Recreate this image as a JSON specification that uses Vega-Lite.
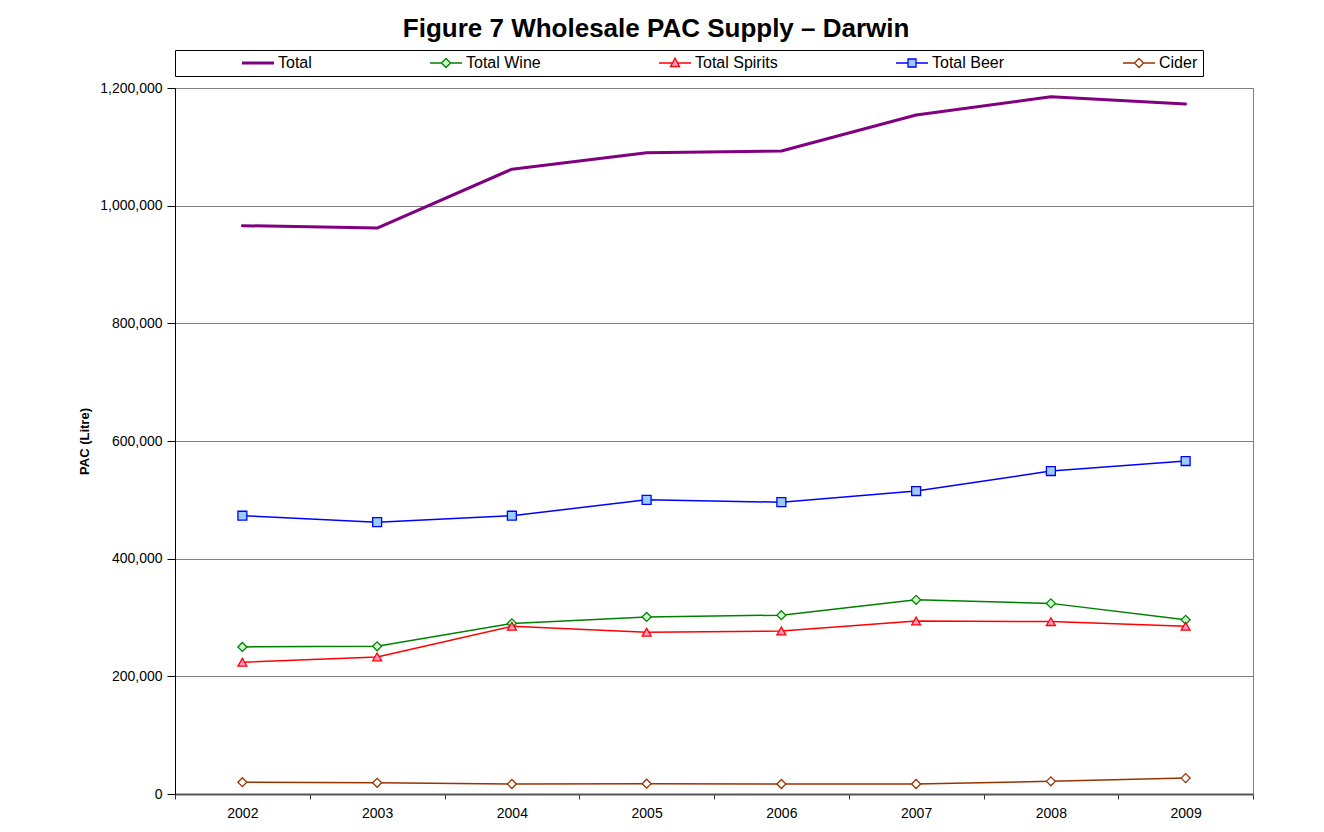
{
  "$schema": "https://vega.github.io/schema/vega-lite/v6.json",
  "width": 1078,
  "height": 706,
  "padding": {"left": 78, "top": 15, "right": 66, "bottom": 5},
  "background": "white",
  "title": {"text": "Figure 7 Wholesale PAC Supply – Darwin", "font": "Liberation Sans", "fontSize": 26, "fontWeight": "bold", "color": "#000000", "anchor": "middle", "frame": "bounds", "offset": 8, "dx": -10},
  "config": {
    "view": {"stroke": "#808080", "strokeWidth": 1},
    "font": "Liberation Sans"
  },
  "data": {"values": [
    {"year": "2002", "series": "Total", "value": 966000},
    {"year": "2003", "series": "Total", "value": 962000},
    {"year": "2004", "series": "Total", "value": 1062000},
    {"year": "2005", "series": "Total", "value": 1090000},
    {"year": "2006", "series": "Total", "value": 1093000},
    {"year": "2007", "series": "Total", "value": 1154000},
    {"year": "2008", "series": "Total", "value": 1185000},
    {"year": "2009", "series": "Total", "value": 1173000},
    {"year": "2002", "series": "Total Wine", "value": 250000},
    {"year": "2003", "series": "Total Wine", "value": 251000},
    {"year": "2004", "series": "Total Wine", "value": 290000},
    {"year": "2005", "series": "Total Wine", "value": 301000},
    {"year": "2006", "series": "Total Wine", "value": 304000},
    {"year": "2007", "series": "Total Wine", "value": 330000},
    {"year": "2008", "series": "Total Wine", "value": 324000},
    {"year": "2009", "series": "Total Wine", "value": 296000},
    {"year": "2002", "series": "Total Spirits", "value": 224000},
    {"year": "2003", "series": "Total Spirits", "value": 233000},
    {"year": "2004", "series": "Total Spirits", "value": 285000},
    {"year": "2005", "series": "Total Spirits", "value": 275000},
    {"year": "2006", "series": "Total Spirits", "value": 277000},
    {"year": "2007", "series": "Total Spirits", "value": 294000},
    {"year": "2008", "series": "Total Spirits", "value": 293000},
    {"year": "2009", "series": "Total Spirits", "value": 285000},
    {"year": "2002", "series": "Total Beer", "value": 473000},
    {"year": "2003", "series": "Total Beer", "value": 462000},
    {"year": "2004", "series": "Total Beer", "value": 473000},
    {"year": "2005", "series": "Total Beer", "value": 500000},
    {"year": "2006", "series": "Total Beer", "value": 496000},
    {"year": "2007", "series": "Total Beer", "value": 515000},
    {"year": "2008", "series": "Total Beer", "value": 549000},
    {"year": "2009", "series": "Total Beer", "value": 566000},
    {"year": "2002", "series": "Cider", "value": 20000},
    {"year": "2003", "series": "Cider", "value": 19000},
    {"year": "2004", "series": "Cider", "value": 17000},
    {"year": "2005", "series": "Cider", "value": 17500},
    {"year": "2006", "series": "Cider", "value": 17000},
    {"year": "2007", "series": "Cider", "value": 17000},
    {"year": "2008", "series": "Cider", "value": 21500},
    {"year": "2009", "series": "Cider", "value": 27000}
  ]},
  "encoding": {
    "x": {
      "field": "year", "type": "ordinal",
      "scale": {"type": "band", "paddingInner": 0, "paddingOuter": 0},
      "axis": {
        "title": null, "labelAngle": 0, "labelFontSize": 14, "labelColor": "#000000", "labelPadding": 7,
        "tickBand": "extent", "tickSize": 5, "tickColor": "#333333", "tickWidth": 1,
        "domainColor": "#555555", "domainWidth": 2, "grid": false
      }
    },
    "y": {
      "field": "value", "type": "quantitative",
      "scale": {"domain": [0, 1200000], "nice": false},
      "axis": {
        "title": "PAC (Litre)", "titleFontSize": 13, "titleFontWeight": "bold", "titleColor": "#000000", "titlePadding": 8,
        "format": ",.0f", "values": [0, 200000, 400000, 600000, 800000, 1000000, 1200000],
        "labelFontSize": 14, "labelColor": "#000000", "labelPadding": 5,
        "tickSize": 8, "tickColor": "#000000",
        "domainColor": "#000000", "domainWidth": 1,
        "grid": true, "gridColor": "#808080", "gridWidth": 1
      }
    }
  },
  "layer": [
    {
      "mark": {"type": "line", "strokeCap": "round", "strokeJoin": "round"},
      "encoding": {
        "color": {
          "field": "series", "type": "nominal",
          "scale": {"domain": ["Total", "Total Wine", "Total Spirits", "Total Beer", "Cider"], "range": ["#800080", "#008000", "#ff0000", "#0000ff", "#993300"]},
          "legend": {
            "orient": "top", "direction": "horizontal", "columns": 5, "gridAlign": "none",
            "title": " ", "titleOrient": "left", "titlePadding": 70,
            "columnPadding": 115, "padding": 5, "offset": 12,
            "strokeColor": "#000000",
            "labelFontSize": 16, "labelColor": "#000000", "labelOffset": 12, "labelLimit": 400,
            "labelExpr": "datum.label === 'Cider' ? 'Cider\u2003\u2003\u2003' : datum.label",
            "symbolSize": 256,
            "encode": {
              "symbols": {
                "update": {
                  "shape": {"signal": "datum.value === 'Total' ? 'M-2,0H2' : datum.value === 'Total Spirits' ? 'M-2,0H-0.35M0.35,0H2M-0.5625,0.45L0,-0.6L0.5625,0.45Z' : datum.value === 'Total Beer' ? 'M-2,0H-0.5M0.5,0H2M-0.5,-0.5H0.5V0.5H-0.5Z' : 'M-2,0H-0.5625M0.5625,0H2M-0.5625,0L0,-0.5625L0.5625,0L0,0.5625Z'"},
                  "fill": {"signal": "datum.value === 'Total Wine' ? '#ccffcc' : datum.value === 'Total Spirits' ? '#ff99cc' : datum.value === 'Total Beer' ? '#99ccff' : datum.value === 'Cider' ? '#ffffff' : 'transparent'"},
                  "stroke": {"signal": "datum.value === 'Total' ? '#800080' : datum.value === 'Total Wine' ? '#008000' : datum.value === 'Total Spirits' ? '#ff0000' : datum.value === 'Total Beer' ? '#0000ff' : '#993300'"},
                  "strokeWidth": {"signal": "datum.value === 'Total' ? 3 : 1.3"},
                  "opacity": {"value": 1}
                }
              }
            }
          }
        },
        "strokeWidth": {"condition": {"test": "datum.series === 'Total'", "value": 3}, "value": 1.5}
      }
    },
    {
      "transform": [{"filter": "datum.series !== 'Total'"}],
      "mark": {"type": "point", "filled": true, "opacity": 1, "strokeWidth": 1.3},
      "encoding": {
        "shape": {
          "field": "series", "type": "nominal",
          "scale": {"domain": ["Total Wine", "Total Spirits", "Total Beer", "Cider"], "range": ["diamond", "triangle-up", "square", "diamond"]},
          "legend": null
        },
        "fill": {
          "field": "series", "type": "nominal",
          "scale": {"domain": ["Total Wine", "Total Spirits", "Total Beer", "Cider"], "range": ["#ccffcc", "#ff99cc", "#99ccff", "#ffffff"]},
          "legend": null
        },
        "stroke": {
          "field": "series", "type": "nominal",
          "scale": {"domain": ["Total Wine", "Total Spirits", "Total Beer", "Cider"], "range": ["#008000", "#ff0000", "#0000ff", "#993300"]},
          "legend": null
        },
        "size": {"value": 80}
      }
    }
  ]
}
